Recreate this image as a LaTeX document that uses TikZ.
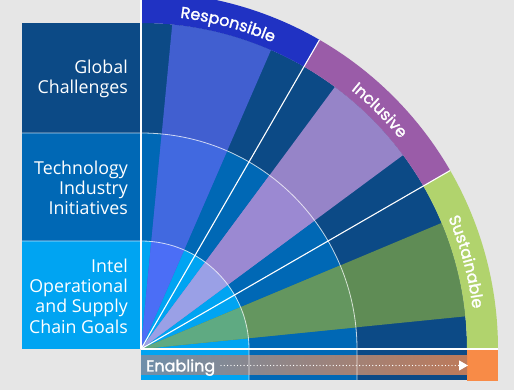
\documentclass[tikz,border=0pt]{standalone}
\usepackage{fontspec}
\setmainfont{Open Sans}
\newfontfamily\bandfont[FakeBold=1.6]{Poppins}
\usetikzlibrary{decorations.text,arrows.meta}
\definecolor{bg}{HTML}{E6E6E6}
\definecolor{ringA}{HTML}{00A4F2}
\definecolor{ringB}{HTML}{0068B5}
\definecolor{ringC}{HTML}{0C4A86}
\definecolor{respA}{HTML}{4B6EF6}
\definecolor{respB}{HTML}{4169E0}
\definecolor{respC}{HTML}{415FD0}
\definecolor{inclA}{HTML}{9AA0E6}
\definecolor{inclB}{HTML}{9B89D2}
\definecolor{inclC}{HTML}{9684C8}
\definecolor{sustA}{HTML}{5FAA82}
\definecolor{sustB}{HTML}{64965F}
\definecolor{sustC}{HTML}{5F8C55}
\definecolor{respBand}{HTML}{2032C3}
\definecolor{inclBand}{HTML}{9A5CA8}
\definecolor{sustBand}{HTML}{B1D36D}
\definecolor{orangeBox}{HTML}{F88B47}
\newcommand\fansector[4]{\fill[#1] (0,0) -- (#2:#4) arc[start angle=#2,end angle=#3,radius=#4] -- cycle;}
\newcommand\bandsector[3]{\fill[#1] (#2:326) arc[start angle=#2,end angle=#3,radius=326] -- (#3:357) arc[start angle=#3,end angle=#2,radius=357] -- cycle;}
\newcommand\wedgeset[5]{%
  \fansector{#3}{#1}{#2}{326}%
  \fansector{#4}{#1}{#2}{216}%
  \fansector{#5}{#1}{#2}{108}}
\tikzset{
  boxlabel/.style={anchor=east, align=right, text=white, inner sep=0pt,
    font=\fontsize{17.8}{20.3}\selectfont},
  sepline/.style={white, line width=1.1pt},
  ringline/.style={white, opacity=0.75, line width=0.8pt},
  bandlabel/.style={decorate, decoration={text along path, text align=center,
    text color=white, text={|\bandfont\fontsize{16}{16}\selectfont|#1}}}
}
\begin{document}
\begin{tikzpicture}[x=1pt,y=1pt]
\fill[bg] (0,0) rectangle (514,390);
\useasboundingbox (0,0) rectangle (514,390);
\clip (0,0) rectangle (514,390);
\begin{scope}[shift={(141,41)}]
  % ring backgrounds
  \fansector{ringC}{0}{90}{326}
  \fansector{ringB}{0}{90}{216}
  \fansector{ringA}{0}{90}{108}
  % wedges
  \wedgeset{66.5}{84.5}{respC}{respB}{respA}
  \wedgeset{36.5}{53.5}{inclC}{inclB}{inclA}
  \wedgeset{5.75}{22.75}{sustC}{sustB}{sustA}
  % outer bands
  \bandsector{respBand}{60}{90}
  \bandsector{inclBand}{30}{60}
  \bandsector{sustBand}{0}{30}
  % band labels
  \path[bandlabel=Responsible] (90:333.5) arc[start angle=90,end angle=60,radius=333.5];
  \path[bandlabel=Inclusive] (60:333.5) arc[start angle=60,end angle=30,radius=333.5];
  \path[bandlabel=Sustainable] (30:334) arc[start angle=30,end angle=0,radius=334];
  % left boxes
  \fill[ringC] (-119,216) rectangle (0,326);
  \fill[ringB] (-119,108) rectangle (0,216);
  \fill[ringA] (-119,0) rectangle (0,108);
  \node[boxlabel] (glob) at (-13,270) {Global\\Challenges};
  \node[boxlabel] (tech) at (-13,161) {Technology\\Industry\\Initiatives};
  \node[boxlabel] (intel) at (-13,53) {Intel\\Operational\\and Supply\\Chain Goals};
  % enabling bar
  \fill[ringA] (0,-31) rectangle (108,-1);
  \fill[ringB] (108,-31) rectangle (216,-1);
  \fill[ringC] (216,-31) rectangle (326,-1);
  \fill[orangeBox] (326,-32) rectangle (357,0);
  \fill[left color={rgb,255:red,111;green,143;blue,170}, middle color={rgb,255:red,166;green,130;blue,112}, right color={rgb,255:red,189;green,122;blue,90}] (0,-7) rectangle (326,-26);
  % ring lines
  \draw[ringline] (-119,108) -- (0,108) arc[start angle=90,end angle=0,radius=108] -- (108,-31);
  \draw[ringline] (-119,216) -- (0,216) arc[start angle=90,end angle=0,radius=216] -- (216,-31);
  % radial lines
  \foreach \a in {0,30,60,90} \draw[sepline] (0,0) -- (\a:357);
  % enabling label and arrow
  \node[anchor=base west, text=white, inner sep=0pt, font=\bandfont\fontsize{16}{16}\selectfont] (en) at (5,-22.5) {Enabling};
  \coordinate (dotstart) at (80,-16.5);
  \coordinate (dotend) at (327,-16.5);
  \draw[white, line width=1.3pt, line cap=round, dash pattern=on 0pt off 3.3pt,
    -{Triangle[width=10pt,length=9pt]}] (dotstart) -- (dotend);
\end{scope}
\end{tikzpicture}
\end{document}
